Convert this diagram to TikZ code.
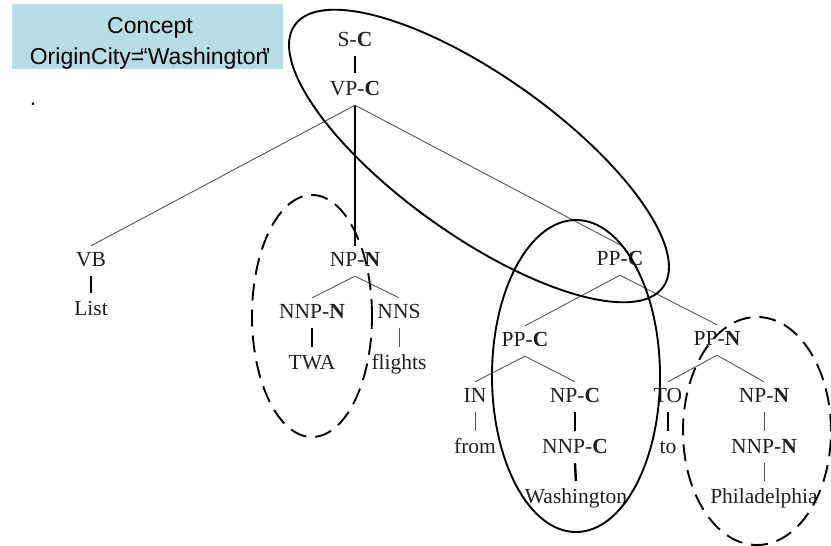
\documentclass[tikz,border=0pt]{standalone}
\usepackage{fontspec}
\setmainfont{Liberation Serif}
\newfontfamily\boxfont{Liberation Sans}
\usetikzlibrary{calc}
\definecolor{boxfill}{RGB}{183,221,228}
\definecolor{branchgray}{RGB}{85,85,85}
\begin{document}
\begin{tikzpicture}[x=1pt,y=-1pt,
  lab/.style={inner sep=0pt, anchor=base, text height=20pt, text depth=10pt,
    font=\fontsize{21.5}{24}\selectfont, text=black!88},
  boxtext/.style={inner sep=0pt, anchor=base, font=\boxfont\fontsize{23}{28}\selectfont},
  branch/.style={draw=branchgray, line width=0.9pt},
  headline/.style={draw=black, line width=2.4pt, shorten >=2pt},
  unary/.style={draw=branchgray, line width=1pt, shorten >=2pt},
  ring/.style={draw=black, line width=1.9pt},
  dring/.style={ring, dash pattern=on 17pt off 9pt}]
\useasboundingbox (0,0) rectangle (831,546);

% concept box
\node[fill=boxfill, minimum width=271pt, minimum height=65pt, inner sep=0pt] (cbox) at (147.5,36.5) {};
\node[boxtext] (concept) at (150,34) {Concept};
\node[boxtext] (origin) at (150,64) {OriginCity=\kern-4pt“Washington\kern-6pt”};
\node[boxtext] (dot) at (33,105) {.};

% tree nodes
\node[lab] (s) at (355,46) {S-\textbf{C}};
\node[lab] (vp) at (355,95) {VP-\textbf{C}};
\node[lab] (vb) at (91,266) {VB};
\node[lab] (list) at (91,315) {List};
\node[lab] (np) at (355,266) {NP-\textbf{N}};
\node[lab] (nnp) at (312,318) {NNP-\textbf{N}};
\node[lab] (twa) at (312,369) {TWA};
\node[lab] (nns) at (399,318) {NNS};
\node[lab] (flights) at (399,369) {flights};
\node[lab] (ppc) at (620,265) {PP-\textbf{C}};
\node[lab] (ppc2) at (525,346) {PP-\textbf{C}};
\node[lab] (in) at (475,402) {IN};
\node[lab] (from) at (475,453) {from};
\node[lab] (npc) at (575,402) {NP-\textbf{C}};
\node[lab] (nnpc) at (575,453) {NNP-\textbf{C}};
\node[lab] (wash) at (576,503) {Washington};
\node[lab] (ppn) at (717,345) {PP-\textbf{N}};
\node[lab] (to) at (668,402) {TO};
\node[lab] (tow) at (668,453) {to};
\node[lab] (npn) at (764,402) {NP-\textbf{N}};
\node[lab] (nnpn) at (764,453) {NNP-\textbf{N}};
\node[lab] (phil) at (764,503) {Philadelphia};

% head (thick) unary lines
\draw[headline] (s.south) -- (vp.north);
\draw[headline, shorten >=0pt] (vp.south) -- (np.north);
\draw[headline] (vb.south) -- (list.north);
\draw[headline] (nnp.south) -- (twa.north);
\draw[headline] (npc.south) -- (nnpc.north);
\draw[headline] (nnpc.south) -- (wash.north);
\draw[headline] (to.south) -- (tow.north);

% thin unary lines
\draw[unary] (nns.south) -- (flights.north);
\draw[unary] (in.south) -- (from.north);
\draw[unary] (npn.south) -- (nnpn.north);
\draw[unary] (nnpn.south) -- (phil.north);

% branches
\draw[branch] (vp.south) -- (vb.north);
\draw[branch] (vp.south) -- (ppc.north);
\draw[branch] (np.south) -- (nnp.north);
\draw[branch] (np.south) -- (nns.north);
\draw[branch] (ppc.south) -- (ppc2.north);
\draw[branch] (ppc.south) -- (ppn.north);
\draw[branch] (ppc2.south) -- (in.north);
\draw[branch] (ppc2.south) -- (npc.north);
\draw[branch] (ppn.south) -- (to.north);
\draw[branch] (ppn.south) -- (npn.north);

% ellipses
\draw[ring, rotate around={-35.4:(479,156)}] (479,156) ellipse [x radius=226pt, y radius=80pt];
\draw[dring] (312,316) ellipse [x radius=60pt, y radius=121pt];
\draw[ring] (576,376) ellipse [x radius=84pt, y radius=156pt];
\draw[dring] (757,431) ellipse [x radius=74pt, y radius=114pt];
\end{tikzpicture}
\end{document}
